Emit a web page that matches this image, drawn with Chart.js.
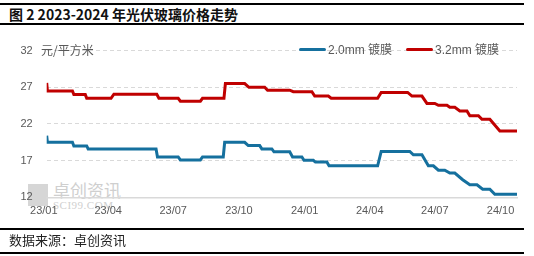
<!DOCTYPE html>
<html lang="zh">
<head>
  <meta charset="UTF-8" />
  <title>2023-2024 年光伏玻璃价格走势</title>
  <style>
    html, body {
      margin: 0;
      padding: 0;
      background: #fff;
    }
    body {
      width: 534px;
      height: 256px;
      position: relative;
      overflow: hidden;
      font-family: "Noto Sans CJK SC", sans-serif;
    }
    .rule { position: absolute; left: 0; width: 524px; background: #000; }
    #title {
      position: absolute; left: 9px; top: 5px;
      font-size: 14px; font-weight: bold; line-height: 18px; color: #111;
    }
    #source {
      position: absolute; left: 9px; top: 231px;
      font-size: 13px; line-height: 18px; color: #222;
    }
    #unit {
      position: absolute; left: 41px; top: 42px;
      font-size: 12px; line-height: 16px; color: #595959;
    }
    #legend {
      position: absolute; left: 299px; top: 39px;
      font-size: 12px; line-height: 16px; color: #595959;
      font-family: "Liberation Sans", "Noto Sans CJK SC", sans-serif;
      white-space: nowrap;
    }
    #legend .item { display: inline-flex; align-items: center; margin-right: 14px; }
    #legend i { display: inline-block; width: 27px; height: 3px; margin-right: 2px; border-radius: 2px; }
    #mark { position: absolute; left: 28px; top: 182px; color: #cfcfcf; }
    #mark .logo { position: absolute; left: 0; top: 2px; width: 20px; height: 22px; background: #d6d6d6; }
    #mark .cn { position: absolute; left: 25px; top: -2px; font-size: 17px; line-height: 20px; white-space: nowrap; }
    #mark .en { position: absolute; left: 25px; top: 17px; font-size: 11px; line-height: 12px; font-family: "Liberation Serif", serif; letter-spacing: 0.5px; }
    #wrap { position: absolute; left: 0; top: 0; width: 534px; height: 256px; }
  </style>
  <script src="https://cdn.jsdelivr.net/npm/chart.js"></script>
</head>
<body>
  <div class="rule" style="top:3px;height:2px"></div>
  <div id="title">图 2 2023-2024 年光伏玻璃价格走势</div>
  <div class="rule" style="top:23px;height:1.5px"></div>
  <div id="mark"><div class="logo"></div><div class="cn">卓创资讯</div><div class="en">SCI99.COM</div></div>
  <div id="wrap"><canvas id="chart"></canvas></div>
  <div id="unit">元/平方米</div>
  <div id="legend"></div>
  <div class="rule" style="top:228px;height:1.5px"></div>
  <div id="source">数据来源：卓创资讯</div>
  <div class="rule" style="top:252px;height:1.5px"></div>

  <script>
    // x values are days since 2023-01-01 at each price change
    const thinDays = [4, 5, 40, 42, 60, 62, 157, 159, 188, 191, 219, 222, 251, 253, 281, 286, 302, 305,
      319, 322, 344, 348, 361, 364, 377, 380, 396, 399, 467, 472, 512, 517, 529, 538, 545, 552,
      561, 568, 575, 586, 596, 606, 614, 624, 631, 662];
    const thinPrice = [20.4, 19.5, 19.5, 19.0, 19.0, 18.6, 18.6, 17.5, 17.5, 17.1, 17.1, 17.5, 17.5, 19.5, 19.5, 19.05, 19.05, 18.6,
      18.6, 18.2, 18.2, 17.5, 17.5, 17.05, 17.05, 16.8, 16.8, 16.3, 16.3, 18.25, 18.25, 17.8, 17.8, 16.3, 16.3, 15.7,
      15.7, 15.3, 15.3, 14.4, 13.7, 13.7, 13.1, 13.1, 12.4, 12.4];

    const thickDays = [4, 5, 40, 42, 58, 60, 94, 98, 158, 161, 188, 191, 219, 222, 252, 254, 281, 287,
      309, 313, 344, 349, 375, 379, 398, 402, 467, 472, 509, 515, 529, 536, 547, 552, 564, 568,
      575, 582, 592, 596, 608, 613, 624, 638, 662];
    const thickPrice = [27.6, 26.5, 26.5, 26.0, 26.0, 25.5, 25.5, 26.05, 26.05, 25.5, 25.5, 25.1, 25.1, 25.5, 25.5, 27.5, 27.5, 27.0,
      27.0, 26.6, 26.6, 26.4, 26.4, 25.8, 25.8, 25.5, 25.5, 26.3, 26.3, 25.8, 25.8, 24.8, 24.8, 24.55, 24.55, 24.27,
      24.27, 23.77, 23.77, 23.13, 23.13, 22.64, 22.64, 21.04, 21.04];

    const tickDays = [0, 90, 181, 273, 365, 456, 547, 639];
    const tickLabels = ["23/01", "23/04", "23/07", "23/10", "24/01", "24/04", "24/07", "24/10"];
    const yTicks = [12, 17, 22, 27, 32];

    const tickFont = { family: "Liberation Sans", size: 11 };

    const chart = new Chart(document.getElementById("chart"), {
      type: "line",
      data: {
        datasets: [
          {
            label: "2.0mm 镀膜",
            data: thinDays.map((d, i) => ({ x: d, y: thinPrice[i] })),
            borderColor: "#15709e",
            borderWidth: 3,
            pointRadius: 0,
            tension: 0
          },
          {
            label: "3.2mm 镀膜",
            data: thickDays.map((d, i) => ({ x: d, y: thickPrice[i] })),
            borderColor: "#c00000",
            borderWidth: 3,
            pointRadius: 0,
            tension: 0
          }
        ]
      },
      options: {
        responsive: true,
        maintainAspectRatio: false,
        animation: false,
        layout: { padding: { left: 0, right: 17, top: 50.6, bottom: 34.7 } },
        plugins: { legend: { display: false }, tooltip: { enabled: false } },
        scales: {
          x: {
            type: "linear",
            min: 4,
            max: 662,
            afterBuildTicks: s => { s.ticks = tickDays.map(v => ({ value: v })); },
            afterFit: s => { s.height = 24; },
            ticks: {
              autoSkip: false,
              maxRotation: 0,
              padding: 7,
              color: "#595959",
              font: tickFont,
              callback: v => tickLabels[tickDays.indexOf(v)]
            },
            grid: { display: false, drawTicks: false },
            border: { display: true, color: "#d9d9d9", width: 1.5 }
          },
          y: {
            min: 12,
            max: 32,
            afterBuildTicks: s => { s.ticks = yTicks.map(v => ({ value: v })); },
            afterFit: s => { s.width = 46.7; },
            ticks: { padding: 14, color: "#595959", font: tickFont },
            grid: {
              color: c => c.tick && c.tick.value === 12 ? "rgba(0,0,0,0)" : "#d9d9d9",
              lineWidth: 1,
              drawTicks: false
            },
            border: { display: false, dash: [4, 3] }
          }
        }
      }
    });

    const legend = document.getElementById("legend");
    chart.data.datasets.forEach(ds => {
      legend.insertAdjacentHTML("beforeend",
        `<span class="item"><i style="background:${ds.borderColor}"></i>${ds.label}</span>`);
    });
  </script>
</body>
</html>
